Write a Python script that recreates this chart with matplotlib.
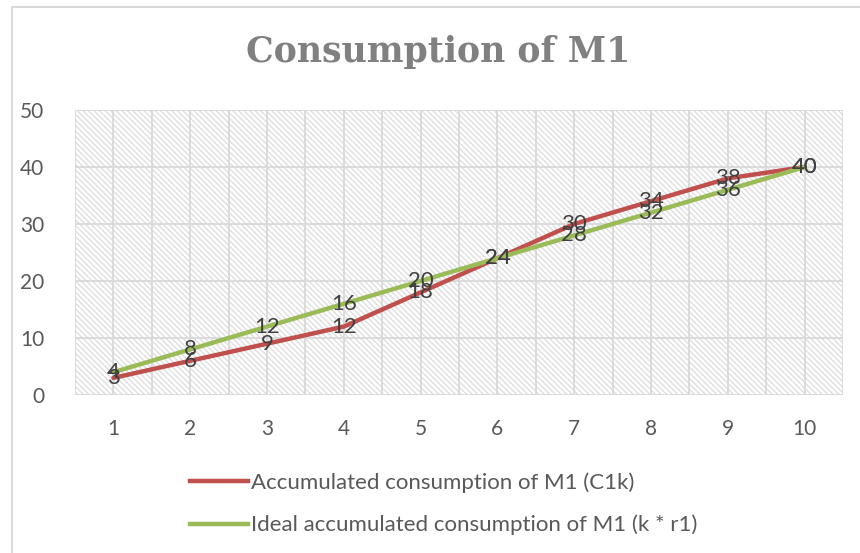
import matplotlib
matplotlib.use("Agg")
import matplotlib.pyplot as plt
from matplotlib.lines import Line2D

# data
periods = [1, 2, 3, 4, 5, 6, 7, 8, 9, 10]
actual = [3, 6, 9, 12, 18, 24, 30, 34, 38, 40]
ideal = [4, 8, 12, 16, 20, 24, 28, 32, 36, 40]
series_names = ["Accumulated consumption of M1 (C1k)",
                "Ideal accumulated consumption of M1 (k * r1)"]
y_ticks = [0, 10, 20, 30, 40, 50]

RED = "#C0504D"
GREEN = "#9BBB59"
TXT = "#595959"
LBL = "#404040"
GRID = "#D9D9D9"

plt.rcParams["font.family"] = ["Lato", "DejaVu Sans"]
plt.rcParams["hatch.linewidth"] = 0.9

W, H = 860, 553
fig = plt.figure(figsize=(W / 100, H / 100), dpi=100)

# chart-area border (left + top only are visible)
fig.add_artist(Line2D([12 / W, 12 / W, 1], [0, 1 - 7 / H, 1 - 7 / H],
                      color="#D9D9D9", lw=1.5, transform=fig.transFigure))

ax = fig.add_axes([75 / W, 1 - 395 / H, (843 - 75) / W, (395 - 110) / H])
ax.set_xlim(0.5, 10.5)
ax.set_ylim(0, 50)

# hatched plot area
ax.add_patch(plt.Rectangle((0, 0), 1, 1, transform=ax.transAxes,
                           facecolor="white", edgecolor="#DCDCDC", lw=0,
                           hatch="\\" * 6, zorder=0))

# gridlines: every half category (category boundaries + centres), every 10 units
for xv in [0.5 + 0.5 * i for i in range(21)]:
    ax.axvline(xv, color=GRID, lw=1.3, zorder=1)
for yv in y_ticks:
    ax.axhline(yv, color=GRID, lw=1.3, zorder=1)

for s in ax.spines.values():
    s.set_visible(False)

ax.plot(periods, actual, color=RED, lw=3.2, solid_capstyle="round", zorder=3)
ax.plot(periods, ideal, color=GREEN, lw=3.2, solid_capstyle="round", zorder=3)

for x, y in zip(periods, actual):
    ax.text(x, y, str(y), ha="center", va="center", fontsize=16, color=LBL, zorder=5)
for x, y in zip(periods, ideal):
    ax.text(x, y, str(y), ha="center", va="center", fontsize=16, color=LBL, zorder=5)

ax.set_xticks(periods)
ax.set_yticks(y_ticks)
ax.tick_params(length=0, labelsize=15, colors=TXT, pad=17)
ax.tick_params(axis="y", pad=22)

fig.text(438 / W, 1 - 52 / H, "Consumption of M1", ha="center", va="center",
         fontsize=25, fontweight="bold", color="#808080",
         family=["DejaVu Serif"])

handles = [Line2D([], [], color=RED, lw=3.2), Line2D([], [], color=GREEN, lw=3.2)]
fig.legend(handles, series_names, loc="upper left",
           bbox_to_anchor=(170 / W, 1 - 452 / H), frameon=False,
           fontsize=16, labelcolor=TXT, handlelength=2.6, handletextpad=0.15,
           labelspacing=1.0)

fig.savefig("out.png", dpi=100)
